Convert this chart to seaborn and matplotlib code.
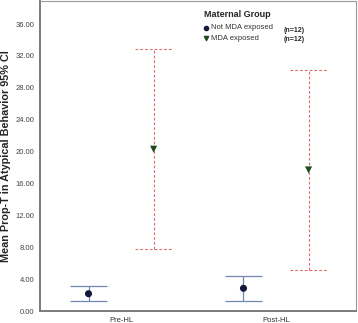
import numpy as np
import pandas as pd
import matplotlib
matplotlib.use('Agg')
import matplotlib.pyplot as plt
import seaborn as sns

# summary values (mean and 95% CI)
phases = ['Pre-HL', 'Post-HL']
groups = ['Not MDA exposed', 'MDA exposed']
means_not = [2.17, 2.85]
lower_not = [1.22, 1.22]
upper_not = [3.17, 4.39]
means_mda = [20.3, 17.7]
lower_mda = [7.74, 5.14]
upper_mda = [32.87, 30.2]
yticks = [0, 4, 8, 12, 16, 20, 24, 28, 32, 36]

df = pd.DataFrame({
    'phase': phases * 2,
    'group': [groups[0]] * 2 + [groups[1]] * 2,
    'mean': means_not + means_mda,
    'lo': lower_not + lower_mda,
    'hi': upper_not + upper_mda,
})
offset = {groups[0]: -0.21, groups[1]: 0.21}
df['x'] = [phases.index(p) + offset[g] for p, g in zip(df['phase'], df['group'])]

sns.set_style('white')
plt.rcParams['font.family'] = ['Liberation Sans', 'DejaVu Sans']

fig = plt.figure(figsize=(3.58, 3.23), dpi=100)
ax = fig.add_axes([40 / 358, 12 / 323, 316 / 358, 310 / 323])

styles = {
    groups[0]: dict(color='#7387b6', ls='-', lw=0.9, mcolor='#14183c', marker='o'),
    groups[1]: dict(color='#d96f6c', ls=(0, (2.5, 1.8)), lw=0.8, mcolor='#1e4a1e', marker='v'),
}

for g in groups:
    sub = df[df['group'] == g]
    st = styles[g]
    for _, r in sub.iterrows():
        ax.vlines(r['x'], r['lo'], r['hi'], color=st['color'], lw=st['lw'], ls=st['ls'])
        ax.hlines([r['lo'], r['hi']], r['x'] - 0.12, r['x'] + 0.12,
                  color=st['color'], lw=st['lw'], ls=st['ls'])

palette = {g: styles[g]['mcolor'] for g in groups}
markers = {g: styles[g]['marker'] for g in groups}
sns.scatterplot(data=df, x='x', y='mean', hue='group', style='group',
                palette=palette, markers=markers, s=26, edgecolor='none',
                ax=ax, zorder=5, legend=False)

ax.set_xlim(-0.523, 1.516)
ax.set_ylim(0, 38.9)
ax.set_xticks([0, 1])
ax.set_xticklabels(phases, fontsize=5.5, color='#333333')
ax.set_yticks(yticks)
ax.set_yticklabels([f'{v:.2f}' for v in yticks], fontsize=5.5, color='#444444')
ax.tick_params(axis='both', direction='out', length=3, width=0.8, color='#333333', pad=1)
ax.set_xlabel('')
ax.set_ylabel('Mean Prop-T in Atypical Behavior 95% CI', fontsize=7.8, fontweight='bold', labelpad=3)

for side in ['left', 'bottom']:
    ax.spines[side].set_color('#7a7a7a')
    ax.spines[side].set_linewidth(1.4)
for side in ['top', 'right']:
    ax.spines[side].set_color('#9a9a9a')
    ax.spines[side].set_linewidth(0.8)

# legend block
ax.text(0.518, 0.955, 'Maternal Group', transform=ax.transAxes, fontsize=6.5,
        fontweight='bold', va='center')
ax.scatter([0.525], [0.913], transform=ax.transAxes, marker='o', s=9,
           color=palette[groups[0]], clip_on=False)
ax.scatter([0.525], [0.880], transform=ax.transAxes, marker='v', s=9,
           color=palette[groups[1]], clip_on=False)
ax.text(0.54, 0.913, groups[0], transform=ax.transAxes, fontsize=5.5, va='center', color='#333333')
ax.text(0.54, 0.880, groups[1], transform=ax.transAxes, fontsize=5.5, va='center', color='#333333')
ax.text(0.77, 0.905, '(n=12)', transform=ax.transAxes, fontsize=5, fontweight='bold', va='center')
ax.text(0.77, 0.875, '(n=12)', transform=ax.transAxes, fontsize=5, fontweight='bold', va='center')

fig.savefig('out.png', dpi=100)
